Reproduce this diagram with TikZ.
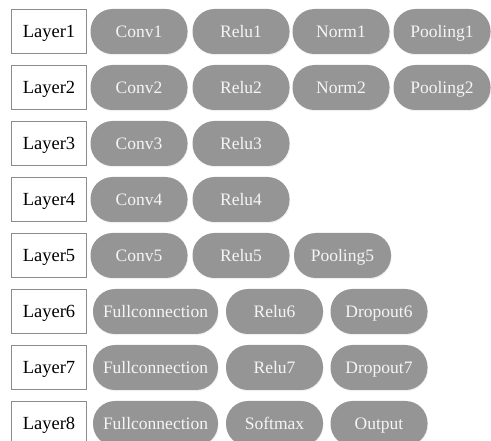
\documentclass[tikz,border=0pt]{standalone}
\usepackage{fontspec}
\setmainfont{Liberation Serif}
\usetikzlibrary{shadows}
\definecolor{pillgray}{HTML}{959595}
\definecolor{boxgray}{HTML}{8C8C8C}
\begin{document}
\begin{tikzpicture}[x=1pt,y=1pt,
  layerbox/.style={draw=boxgray, line width=1.5pt, fill=white, minimum width=75pt, minimum height=44pt, inner sep=0pt, text height=12.2pt, text depth=0pt, font=\fontsize{18.5}{20}\selectfont, text=black},
  pill/.style={fill=pillgray, rounded corners=22pt, minimum height=45pt, inner sep=0pt, text height=11.6pt, text depth=0pt, font=\fontsize{17.5}{19}\selectfont, text=white!96!black,
    drop shadow={opacity=0.12, shadow xshift=0.6pt, shadow yshift=-1.2pt}},
  std/.style={pill, minimum width=97pt},
  wide/.style={pill, minimum width=125pt}]
\useasboundingbox (0,0) rectangle (491,-441);
% Layer boxes
\foreach \i/\y in {1/31.5,2/87.5,3/143.5,4/199.5,5/255.5,6/311.5,7/367.5,8/423.5}{
  \node[layerbox] (L\i) at (49,-\y) {Layer\i};
}
% Rows 1-2
\foreach \i/\y in {1/31.5,2/87.5}{
  \node[std] (conv\i) at (139,-\y) {Conv\i};
  \node[std] (relu\i) at (241,-\y) {Relu\i};
  \node[std] (norm\i) at (341,-\y) {Norm\i};
  \node[std] (pool\i) at (442,-\y) {Pooling\i};
}
% Rows 3-4
\foreach \i/\y in {3/143.5,4/199.5}{
  \node[std] (conv\i) at (139,-\y) {Conv\i};
  \node[std] (relu\i) at (241,-\y) {Relu\i};
}
% Row 5
\node[std] (conv5) at (139,-255.5) {Conv5};
\node[std] (relu5) at (241,-255.5) {Relu5};
\node[std] (pool5) at (342.5,-255.5) {Pooling5};
% Rows 6-7
\foreach \i/\y in {6/311.5,7/367.5}{
  \node[wide] (fc\i) at (155.5,-\y) {Fullconnection};
  \node[std] (relu\i) at (274.5,-\y) {Relu\i};
  \node[std] (drop\i) at (379,-\y) {Dropout\i};
}
% Row 8
\node[wide] (fc8) at (155.5,-423.5) {Fullconnection};
\node[std] (soft8) at (274.5,-423.5) {Softmax};
\node[std] (out8) at (379,-423.5) {Output};
\end{tikzpicture}
\end{document}
